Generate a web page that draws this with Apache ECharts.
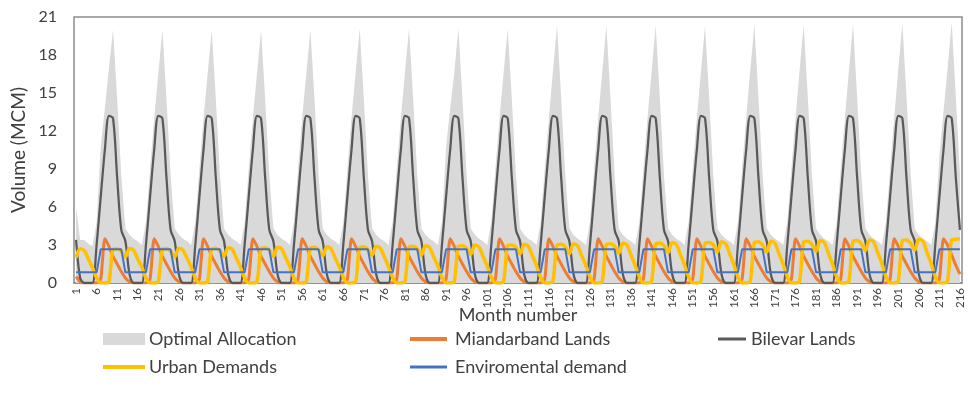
<!DOCTYPE html>
<html>
<head>
<meta charset="utf-8">
<script src="https://cdn.jsdelivr.net/npm/echarts@6/dist/echarts.min.js"></script>
<style>
html,body{margin:0;padding:0;background:#fff;}
#chart{width:968px;height:404px;}
</style>
</head>
<body>
<div id="chart"></div>
<script>
// Month numbers (category axis)
const months = Array.from({length: 216}, (_, i) => String(i + 1));

// Optimal Allocation (MCM), 18 years x 12 months
const optimalAllocation = [
  6.0, 3.4, 3.4, 3.1, 2.9, 4.8, 10.7, 13.8, 17.0, 20.0, 14.5, 8.5,
  4.3, 3.8, 3.5, 3.3, 3.0, 4.8, 9.0, 13.0, 16.5, 20.0, 14.5, 8.5,
  4.3, 3.8, 3.5, 3.3, 3.0, 4.8, 9.0, 13.0, 16.5, 20.0, 14.5, 8.5,
  4.3, 3.8, 3.5, 3.3, 3.0, 4.8, 9.0, 13.0, 16.5, 20.0, 14.5, 8.5,
  4.3, 3.8, 3.5, 3.3, 3.0, 4.8, 9.0, 13.0, 16.5, 20.0, 14.5, 8.5,
  4.3, 3.8, 3.5, 3.3, 3.0, 4.8, 9.0, 13.0, 16.6, 20.1, 14.5, 8.5,
  4.3, 3.8, 3.5, 3.3, 3.0, 4.8, 9.0, 13.0, 16.6, 20.1, 14.5, 8.5,
  4.3, 3.8, 3.5, 3.3, 3.0, 4.8, 10.7, 13.8, 16.6, 20.1, 14.5, 8.5,
  4.3, 3.8, 3.5, 3.3, 3.0, 4.8, 9.0, 13.0, 16.6, 20.1, 14.5, 8.5,
  4.3, 3.8, 3.5, 3.3, 3.0, 4.8, 9.0, 13.0, 16.7, 20.3, 14.6, 8.5,
  4.3, 3.8, 3.5, 3.3, 3.0, 4.8, 9.0, 13.0, 16.7, 20.3, 14.6, 8.5,
  4.3, 3.8, 3.5, 3.3, 3.0, 4.8, 9.0, 13.0, 16.7, 20.3, 14.6, 8.5,
  4.3, 3.8, 3.5, 3.3, 3.0, 4.8, 9.0, 13.0, 16.7, 20.3, 14.6, 8.5,
  4.3, 3.8, 3.5, 3.3, 3.0, 4.8, 9.0, 13.0, 16.8, 20.4, 14.6, 8.5,
  4.3, 3.8, 3.5, 3.3, 3.0, 4.8, 9.0, 13.0, 16.8, 20.4, 14.6, 8.5,
  4.3, 3.8, 3.5, 3.3, 3.0, 4.8, 9.0, 13.0, 16.8, 20.4, 14.6, 8.5,
  4.3, 3.8, 3.5, 3.3, 3.0, 4.8, 9.0, 13.0, 16.9, 20.5, 14.7, 8.6,
  4.3, 3.8, 3.5, 3.3, 3.0, 4.8, 10.0, 13.5, 17.0, 20.6, 14.7, 8.6
];

// Miandarband Lands
const miandarband = [
  0.5, 0.1, 0, 0, 0, 0, 0.3, 3.5, 2.9, 2.1, 1.5, 0.9,
  0.4, 0.1, 0, 0, 0, 0, 0.3, 3.5, 2.9, 2.1, 1.5, 0.9,
  0.4, 0.1, 0, 0, 0, 0, 0.3, 3.5, 2.9, 2.1, 1.5, 0.9,
  0.4, 0.1, 0, 0, 0, 0, 0.3, 3.5, 2.9, 2.1, 1.5, 0.9,
  0.4, 0.1, 0, 0, 0, 0, 0.3, 3.5, 2.9, 2.1, 1.5, 0.9,
  0.4, 0.1, 0, 0, 0, 0, 0.3, 3.5, 2.9, 2.1, 1.5, 0.9,
  0.4, 0.1, 0, 0, 0, 0, 0.3, 3.5, 2.9, 2.1, 1.5, 0.9,
  0.4, 0.1, 0, 0, 0, 0, 0.3, 3.5, 2.9, 2.1, 1.5, 0.9,
  0.4, 0.1, 0, 0, 0, 0, 0.3, 3.5, 2.9, 2.1, 1.5, 0.9,
  0.4, 0.1, 0, 0, 0, 0, 0.3, 3.5, 2.9, 2.1, 1.5, 0.9,
  0.4, 0.1, 0, 0, 0, 0, 0.3, 3.5, 2.9, 2.1, 1.5, 0.9,
  0.4, 0.1, 0, 0, 0, 0, 0.3, 3.5, 2.9, 2.1, 1.5, 0.9,
  0.4, 0.1, 0, 0, 0, 0, 0.3, 3.5, 2.9, 2.1, 1.5, 0.9,
  0.4, 0.1, 0, 0, 0, 0, 0.3, 3.5, 2.9, 2.1, 1.5, 0.9,
  0.4, 0.1, 0, 0, 0, 0, 0.3, 3.5, 2.9, 2.1, 1.5, 0.9,
  0.4, 0.1, 0, 0, 0, 0, 0.3, 3.5, 2.9, 2.1, 1.5, 0.9,
  0.4, 0.1, 0, 0, 0, 0, 0.3, 3.5, 2.9, 2.1, 1.5, 0.9,
  0.4, 0.1, 0, 0, 0, 0, 0.3, 3.5, 3.0, 2.2, 1.4, 0.7
];

// Bilevar Lands
const bilevar = [
  3.4, 0.4, 0, 0, 0, 3.0, 6.8, 10.5, 13.2, 13.0, 8.3, 4.2,
  3.3, 0.7, 0, 0, 0, 3.0, 6.8, 10.5, 13.2, 13.0, 8.3, 4.2,
  3.3, 0.7, 0, 0, 0, 3.0, 6.8, 10.5, 13.2, 13.0, 8.3, 4.2,
  3.3, 0.7, 0, 0, 0, 3.0, 6.8, 10.5, 13.2, 13.0, 8.3, 4.2,
  3.3, 0.7, 0, 0, 0, 3.0, 6.8, 10.5, 13.2, 13.0, 8.3, 4.2,
  3.3, 0.7, 0, 0, 0, 3.0, 6.8, 10.5, 13.2, 13.0, 8.3, 4.2,
  3.3, 0.7, 0, 0, 0, 3.0, 6.8, 10.5, 13.2, 13.0, 8.3, 4.2,
  3.3, 0.7, 0, 0, 0, 3.0, 6.8, 10.5, 13.2, 13.0, 8.3, 4.2,
  3.3, 0.7, 0, 0, 0, 3.0, 6.8, 10.5, 13.2, 13.0, 8.3, 4.2,
  3.3, 0.7, 0, 0, 0, 3.0, 6.8, 10.5, 13.2, 13.0, 8.3, 4.2,
  3.3, 0.7, 0, 0, 0, 3.0, 6.8, 10.5, 13.2, 13.0, 8.3, 4.2,
  3.3, 0.7, 0, 0, 0, 3.0, 6.8, 10.5, 13.2, 13.0, 8.3, 4.2,
  3.3, 0.7, 0, 0, 0, 3.0, 6.8, 10.5, 13.2, 13.0, 8.3, 4.2,
  3.3, 0.7, 0, 0, 0, 3.0, 6.8, 10.5, 13.2, 13.0, 8.3, 4.2,
  3.3, 0.7, 0, 0, 0, 3.0, 6.8, 10.5, 13.2, 13.0, 8.3, 4.2,
  3.3, 0.7, 0, 0, 0, 3.0, 6.8, 10.5, 13.2, 13.0, 8.3, 4.2,
  3.3, 0.7, 0, 0, 0, 3.0, 6.8, 10.5, 13.2, 13.0, 8.3, 4.2,
  3.3, 0.7, 0, 0, 0, 3.0, 6.8, 10.5, 13.2, 13.0, 8.3, 4.2
];

// Urban Demands
const urban = [
  2.0, 2.7, 2.55, 1.9, 1.2, 0.4, 0, 0, 0.1, 2.65, 2.7, 2.5,
  2.05, 2.72, 2.6, 1.9, 1.25, 0.4, 0, 0, 0.1, 2.65, 2.72, 2.5,
  2.05, 2.75, 2.6, 1.95, 1.25, 0.4, 0, 0, 0.1, 2.7, 2.75, 2.55,
  2.1, 2.78, 2.65, 1.95, 1.25, 0.4, 0, 0, 0.1, 2.7, 2.78, 2.6,
  2.1, 2.82, 2.7, 2.0, 1.3, 0.4, 0, 0, 0.1, 2.75, 2.82, 2.6,
  2.15, 2.86, 2.7, 2.0, 1.3, 0.45, 0, 0, 0.1, 2.8, 2.86, 2.65,
  2.2, 2.9, 2.75, 2.05, 1.3, 0.45, 0, 0, 0.1, 2.85, 2.9, 2.7,
  2.2, 2.95, 2.8, 2.05, 1.35, 0.45, 0, 0, 0.1, 2.9, 2.95, 2.75,
  2.25, 3.0, 2.85, 2.1, 1.35, 0.45, 0, 0, 0.15, 2.95, 3.0, 2.8,
  2.3, 3.05, 2.9, 2.15, 1.4, 0.45, 0, 0, 0.15, 3.0, 3.05, 2.85,
  2.3, 3.1, 2.95, 2.15, 1.4, 0.5, 0, 0, 0.15, 3.05, 3.1, 2.9,
  2.35, 3.15, 3.0, 2.2, 1.4, 0.5, 0, 0, 0.15, 3.1, 3.15, 2.95,
  2.4, 3.2, 3.05, 2.25, 1.45, 0.5, 0, 0, 0.15, 3.15, 3.2, 3.0,
  2.45, 3.25, 3.1, 2.3, 1.45, 0.5, 0, 0, 0.15, 3.2, 3.25, 3.0,
  2.45, 3.3, 3.15, 2.3, 1.5, 0.5, 0, 0, 0.15, 3.25, 3.3, 3.05,
  2.5, 3.35, 3.2, 2.35, 1.5, 0.5, 0, 0, 0.15, 3.3, 3.35, 3.1,
  2.55, 3.4, 3.25, 2.4, 1.55, 0.5, 0, 0, 0.15, 3.35, 3.4, 3.15,
  2.6, 3.45, 3.3, 2.4, 1.55, 0.5, 0, 0, 0.15, 3.4, 3.45, 3.5
];

// Enviromental demand
const environmental = [
  0.84, 0.84, 0.84, 0.84, 0.84, 0.84, 2.66, 2.66, 2.66, 2.66, 2.66, 2.66,
  0.84, 0.84, 0.84, 0.84, 0.84, 0.84, 2.66, 2.66, 2.66, 2.66, 2.66, 2.66,
  0.84, 0.84, 0.84, 0.84, 0.84, 0.84, 2.66, 2.66, 2.66, 2.66, 2.66, 2.66,
  0.84, 0.84, 0.84, 0.84, 0.84, 0.84, 2.66, 2.66, 2.66, 2.66, 2.66, 2.66,
  0.84, 0.84, 0.84, 0.84, 0.84, 0.84, 2.66, 2.66, 2.66, 2.66, 2.66, 2.66,
  0.84, 0.84, 0.84, 0.84, 0.84, 0.84, 2.66, 2.66, 2.66, 2.66, 2.66, 2.66,
  0.84, 0.84, 0.84, 0.84, 0.84, 0.84, 2.66, 2.66, 2.66, 2.66, 2.66, 2.66,
  0.84, 0.84, 0.84, 0.84, 0.84, 0.84, 2.66, 2.66, 2.66, 2.66, 2.66, 2.66,
  0.84, 0.84, 0.84, 0.84, 0.84, 0.84, 2.66, 2.66, 2.66, 2.66, 2.66, 2.66,
  0.84, 0.84, 0.84, 0.84, 0.84, 0.84, 2.66, 2.66, 2.66, 2.66, 2.66, 2.66,
  0.84, 0.84, 0.84, 0.84, 0.84, 0.84, 2.66, 2.66, 2.66, 2.66, 2.66, 2.66,
  0.84, 0.84, 0.84, 0.84, 0.84, 0.84, 2.66, 2.66, 2.66, 2.66, 2.66, 2.66,
  0.84, 0.84, 0.84, 0.84, 0.84, 0.84, 2.66, 2.66, 2.66, 2.66, 2.66, 2.66,
  0.84, 0.84, 0.84, 0.84, 0.84, 0.84, 2.66, 2.66, 2.66, 2.66, 2.66, 2.66,
  0.84, 0.84, 0.84, 0.84, 0.84, 0.84, 2.66, 2.66, 2.66, 2.66, 2.66, 2.66,
  0.84, 0.84, 0.84, 0.84, 0.84, 0.84, 2.66, 2.66, 2.66, 2.66, 2.66, 2.66,
  0.84, 0.84, 0.84, 0.84, 0.84, 0.84, 2.66, 2.66, 2.66, 2.66, 2.66, 2.66,
  0.84, 0.84, 0.84, 0.84, 0.84, 0.84, 2.66, 2.66, 2.66, 2.66, 2.66, 2.66
];

const FONT = 'Lato';
const TXT = '#404040';

const chart = echarts.init(document.getElementById('chart'), null, {renderer: 'canvas'});

function legendItem(name, left, top, w, h, padLeft) {
  return {
    data: [name], left: left, top: top, orient: 'horizontal',
    icon: 'rect', itemWidth: w, itemHeight: h, itemGap: 0,
    padding: 0, selectedMode: false,
    textStyle: {fontFamily: FONT, fontSize: 18, color: TXT, padding: [0, 0, 0, padLeft]}
  };
}

chart.setOption({
  animation: false,
  backgroundColor: '#ffffff',
  grid: {left: 74, top: 17, right: 6, bottom: 121, show: true, borderColor: '#8c8c8c', borderWidth: 1.5, backgroundColor: 'transparent'},
  legend: [
    legendItem('Optimal Allocation', 103, 330, 42, 12, -1),
    legendItem('Miandarband Lands', 410, 330, 37, 4, 3),
    legendItem('Bilevar Lands', 718, 330, 28, 3, 0),
    legendItem('Urban Demands', 103, 358, 42, 4, -1),
    legendItem('Enviromental demand', 410, 358, 37, 3, 3)
  ],
  xAxis: {
    type: 'category', data: months, boundaryGap: true,
    name: 'Month number', nameLocation: 'middle', nameGap: 23,
    nameMoveOverlap: false,
    nameTextStyle: {fontFamily: FONT, fontSize: 18, color: TXT},
    axisLine: {show: true, lineStyle: {color: '#8c8c8c', width: 1.5}},
    axisTick: {show: false},
    axisLabel: {interval: 4, rotate: 90, fontFamily: FONT, fontSize: 11.5, color: TXT, margin: 5},
    splitLine: {show: false}
  },
  yAxis: {
    type: 'value', min: 0, max: 21, interval: 3,
    name: 'Volume (MCM)', nameLocation: 'middle', nameGap: 46,
    nameMoveOverlap: false,
    nameTextStyle: {fontFamily: FONT, fontSize: 19, color: TXT},
    axisLine: {show: false}, axisTick: {show: false},
    axisLabel: {fontFamily: FONT, fontSize: 16, color: TXT, margin: 17},
    splitLine: {show: false}
  },
  series: [
    {name: 'Optimal Allocation', type: 'line', data: optimalAllocation, symbol: 'none',
     lineStyle: {width: 0}, areaStyle: {color: '#d9d9d9', opacity: 1}, itemStyle: {color: '#d9d9d9'}, z: 1},
    {name: 'Miandarband Lands', type: 'line', data: miandarband, symbol: 'none', smooth: 0.2,
     lineStyle: {color: '#ed7d31', width: 3}, itemStyle: {color: '#ed7d31'}, z: 2},
    {name: 'Bilevar Lands', type: 'line', data: bilevar, symbol: 'none', smooth: 0.3,
     lineStyle: {color: '#595959', width: 2.25}, itemStyle: {color: '#595959'}, z: 3},
    {name: 'Urban Demands', type: 'line', data: urban, symbol: 'none', smooth: 0.3,
     lineStyle: {color: '#ffc000', width: 3.5}, itemStyle: {color: '#ffc000'}, z: 4},
    {name: 'Enviromental demand', type: 'line', data: environmental, symbol: 'none',
     lineStyle: {color: '#4472c4', width: 2}, itemStyle: {color: '#4472c4'}, z: 5}
  ]
});
</script>
</body>
</html>
